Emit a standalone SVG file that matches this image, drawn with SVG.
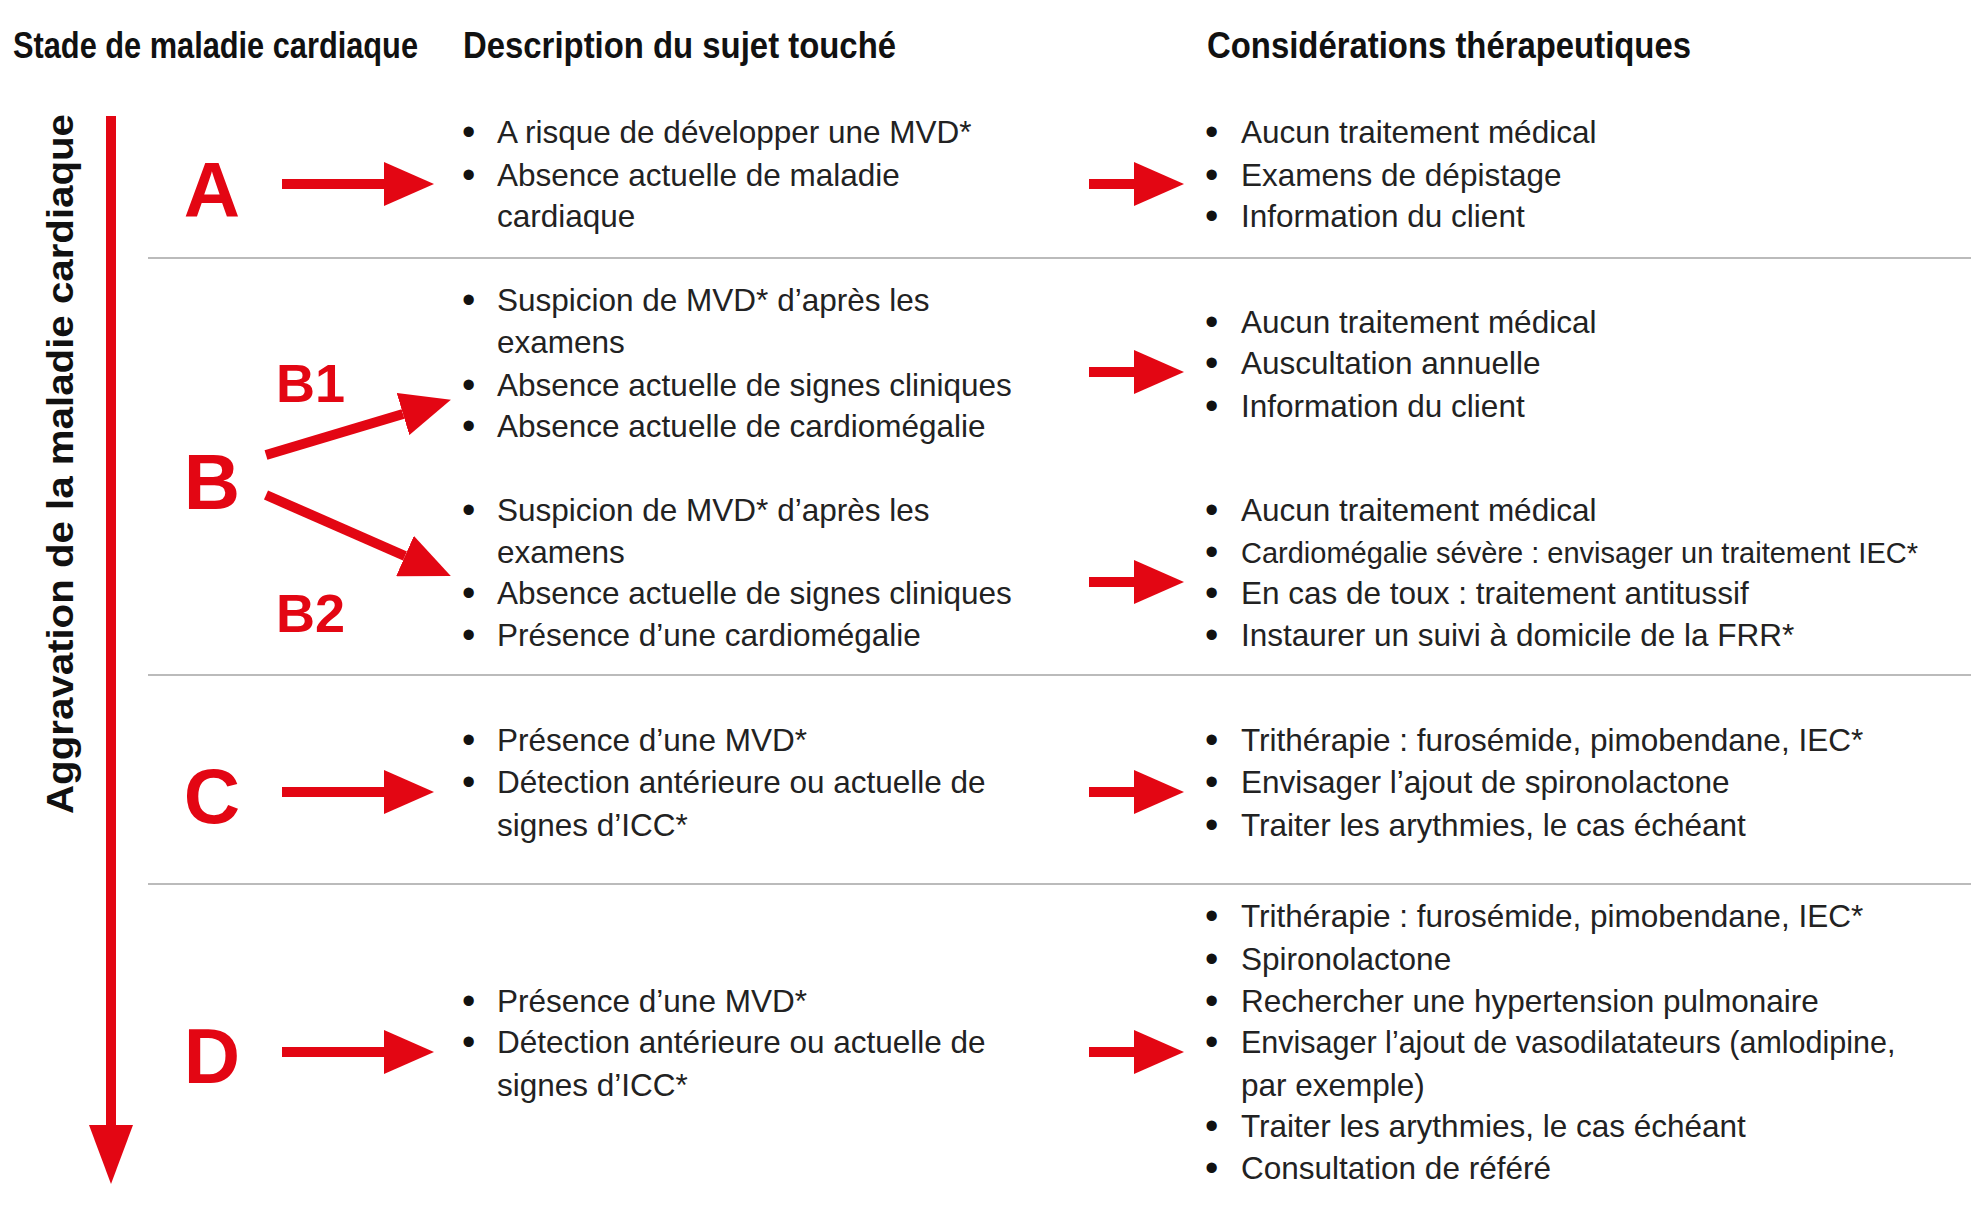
<svg xmlns="http://www.w3.org/2000/svg" width="1971" height="1216" viewBox="0 0 1971 1216">
<style>
.h{font-family:"Liberation Sans",Arial,sans-serif;font-weight:bold;font-size:36px;fill:#111}
.t{font-family:"Liberation Sans",Arial,sans-serif;font-size:31.5px;fill:#222}
.b{font-family:"Liberation Sans",Arial,sans-serif;font-size:38px;fill:#111}
.L{font-family:"Liberation Sans",Arial,sans-serif;font-weight:bold;font-size:78px;fill:#e30613;text-anchor:middle}
.S{font-family:"Liberation Sans",Arial,sans-serif;font-weight:bold;font-size:54px;fill:#e30613}
.sep{stroke:#bbb;stroke-width:2}
.sh{stroke:#e30613;stroke-width:10}
</style>
<defs>
<marker id="ah" markerWidth="5" markerHeight="4.4" refX="0" refY="2.2" orient="auto" markerUnits="strokeWidth"><path d="M0,0 L5,2.2 L0,4.4 Z" fill="#e30613"/></marker>
</defs>
<g id="headers">
<text class="h" x="13" y="58" textLength="405" lengthAdjust="spacingAndGlyphs">Stade de maladie cardiaque</text>
<text class="h" x="463" y="58" textLength="433" lengthAdjust="spacingAndGlyphs">Description du sujet touché</text>
<text class="h" x="1207" y="58" textLength="484" lengthAdjust="spacingAndGlyphs">Considérations thérapeutiques</text>
</g>
<g id="axis">
<line x1="111" y1="116" x2="111" y2="1130" stroke="#e30613" stroke-width="10"/>
<path d="M89,1125 L133,1125 L111,1184 Z" fill="#e30613"/>
<text x="0" y="0" transform="translate(73,464) rotate(-90)" text-anchor="middle" textLength="700" lengthAdjust="spacingAndGlyphs" style="font-family:'Liberation Sans',Arial,sans-serif;font-weight:bold;font-size:36px;fill:#111">Aggravation de la maladie cardiaque</text>
</g>
<g id="separators">
<line class="sep" x1="148" y1="258" x2="1971" y2="258"/>
<line class="sep" x1="148" y1="675" x2="1971" y2="675"/>
<line class="sep" x1="148" y1="884" x2="1971" y2="884"/>
</g>
<g id="stages">
<text class="L" x="212" y="217">A</text>
<text class="L" x="212" y="509">B</text>
<text class="S" x="276" y="402">B1</text>
<text class="S" x="276" y="632">B2</text>
<text class="L" x="212" y="823">C</text>
<text class="L" x="212" y="1083">D</text>
</g>
<g id="connectors">
<line class="sh" x1="282" y1="184" x2="384" y2="184" marker-end="url(#ah)"/>
<line class="sh" x1="266" y1="455" x2="403" y2="414" marker-end="url(#ah)"/>
<line class="sh" x1="266" y1="495" x2="405" y2="556" marker-end="url(#ah)"/>
<line class="sh" x1="282" y1="792" x2="384" y2="792" marker-end="url(#ah)"/>
<line class="sh" x1="282" y1="1052" x2="384" y2="1052" marker-end="url(#ah)"/>
<line class="sh" x1="1089" y1="184" x2="1134" y2="184" marker-end="url(#ah)"/>
<line class="sh" x1="1089" y1="372" x2="1134" y2="372" marker-end="url(#ah)"/>
<line class="sh" x1="1089" y1="582" x2="1134" y2="582" marker-end="url(#ah)"/>
<line class="sh" x1="1089" y1="792" x2="1134" y2="792" marker-end="url(#ah)"/>
<line class="sh" x1="1089" y1="1052" x2="1134" y2="1052" marker-end="url(#ah)"/>
</g>
<g id="descA">
<text class="b" x="462" y="145">•</text><text class="t" x="497" y="143">A risque de développer une MVD*</text>
<text class="b" x="462" y="188">•</text><text class="t" x="497" y="186">Absence actuelle de maladie</text>
<text class="t" x="497" y="227">cardiaque</text>
</g>
<g id="therA">
<text class="b" x="1205" y="145">•</text><text class="t" x="1241" y="143">Aucun traitement médical</text>
<text class="b" x="1205" y="188">•</text><text class="t" x="1241" y="186">Examens de dépistage</text>
<text class="b" x="1205" y="229">•</text><text class="t" x="1241" y="227">Information du client</text>
</g>
<g id="descB1">
<text class="b" x="462" y="313">•</text><text class="t" x="497" y="311">Suspicion de MVD* d’après les</text>
<text class="t" x="497" y="353">examens</text>
<text class="b" x="462" y="398">•</text><text class="t" x="497" y="396">Absence actuelle de signes cliniques</text>
<text class="b" x="462" y="439">•</text><text class="t" x="497" y="437">Absence actuelle de cardiomégalie</text>
</g>
<g id="therB1">
<text class="b" x="1205" y="335">•</text><text class="t" x="1241" y="333">Aucun traitement médical</text>
<text class="b" x="1205" y="376">•</text><text class="t" x="1241" y="374">Auscultation annuelle</text>
<text class="b" x="1205" y="419">•</text><text class="t" x="1241" y="417">Information du client</text>
</g>
<g id="descB2">
<text class="b" x="462" y="523">•</text><text class="t" x="497" y="521">Suspicion de MVD* d’après les</text>
<text class="t" x="497" y="563">examens</text>
<text class="b" x="462" y="606">•</text><text class="t" x="497" y="604">Absence actuelle de signes cliniques</text>
<text class="b" x="462" y="648">•</text><text class="t" x="497" y="646">Présence d’une cardiomégalie</text>
</g>
<g id="therB2">
<text class="b" x="1205" y="523">•</text><text class="t" x="1241" y="521">Aucun traitement médical</text>
<text class="b" x="1205" y="565">•</text><text class="t" x="1241" y="563" style="font-size:29px">Cardiomégalie sévère : envisager un traitement IEC*</text>
<text class="b" x="1205" y="606">•</text><text class="t" x="1241" y="604">En cas de toux : traitement antitussif</text>
<text class="b" x="1205" y="648">•</text><text class="t" x="1241" y="646">Instaurer un suivi à domicile de la FRR*</text>
</g>
<g id="descC">
<text class="b" x="462" y="753">•</text><text class="t" x="497" y="751">Présence d’une MVD*</text>
<text class="b" x="462" y="795">•</text><text class="t" x="497" y="793">Détection antérieure ou actuelle de</text>
<text class="t" x="497" y="836">signes d’ICC*</text>
</g>
<g id="therC">
<text class="b" x="1205" y="753">•</text><text class="t" x="1241" y="751">Trithérapie : furosémide, pimobendane, IEC*</text>
<text class="b" x="1205" y="795">•</text><text class="t" x="1241" y="793">Envisager l’ajout de spironolactone</text>
<text class="b" x="1205" y="838">•</text><text class="t" x="1241" y="836">Traiter les arythmies, le cas échéant</text>
</g>
<g id="descD">
<text class="b" x="462" y="1014">•</text><text class="t" x="497" y="1012">Présence d’une MVD*</text>
<text class="b" x="462" y="1055">•</text><text class="t" x="497" y="1053">Détection antérieure ou actuelle de</text>
<text class="t" x="497" y="1096">signes d’ICC*</text>
</g>
<g id="therD">
<text class="b" x="1205" y="929">•</text><text class="t" x="1241" y="927">Trithérapie : furosémide, pimobendane, IEC*</text>
<text class="b" x="1205" y="972">•</text><text class="t" x="1241" y="970">Spironolactone</text>
<text class="b" x="1205" y="1014">•</text><text class="t" x="1241" y="1012">Rechercher une hypertension pulmonaire</text>
<text class="b" x="1205" y="1055">•</text><text class="t" x="1241" y="1053" style="font-size:30.5px">Envisager l’ajout de vasodilatateurs (amlodipine,</text>
<text class="t" x="1241" y="1096">par exemple)</text>
<text class="b" x="1205" y="1139">•</text><text class="t" x="1241" y="1137">Traiter les arythmies, le cas échéant</text>
<text class="b" x="1205" y="1181">•</text><text class="t" x="1241" y="1179">Consultation de référé</text>
</g>
</svg>
